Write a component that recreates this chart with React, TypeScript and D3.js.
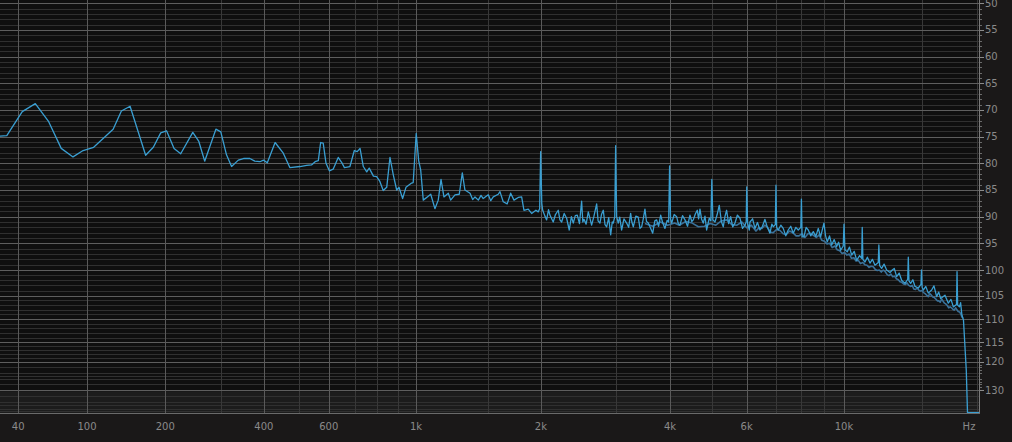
import React from 'react';
import * as d3 from 'd3';

const W = 1012;
const H = 442;
const PLOT_R = 980;
const PLOT_B = 414;

// Frequency axis
const freqLabelTicks = [40, 100, 200, 400, 600, 1000, 2000, 4000, 6000, 10000];
const freqLabelText = ['40', '100', '200', '400', '600', '1k', '2k', '4k', '6k', '10k'];
const freqMinorGrid = [300, 500, 700, 800, 900, 1500, 3000, 5000, 7000, 8000, 9000, 15000, 20000];
const freqUnit = 'Hz';

// Level axis (dB)
const dbLabelTicks = [-50, -55, -60, -65, -70, -75, -80, -85, -90, -95, -100, -105, -110, -115, -120, -130];
const dbLowGrid = [-122, -124, -125, -126, -128, -135, -140, -145, -150, -155];

// Main spectrum [Hz, dB]
const spectrum: [number, number][] = [
  [27, -74.9], [32, -74.8], [43, -70.3], [53, -68.8], [64, -72.2], [75, -77.2], [86, -78.8], [96, -77.6],
  [107, -77.0], [129, -73.6], [139, -70.2], [150, -69.3], [171, -78.5], [182, -77.0], [193, -74.3], [202, -73.9],
  [214, -77.2], [225, -78.2], [246, -74.2], [257, -75.9], [268, -79.6], [290, -73.6], [300, -74.1], [312, -78.4],
  [323, -80.6], [338, -79.4], [350, -79.1], [365, -79.1], [377, -79.6], [390, -79.7], [399, -79.4], [409, -79.9],
  [430, -76.1], [453, -78.1], [472, -80.8], [503, -80.6], [524, -80.4], [540, -80.3], [552, -79.7], [563, -79.5],
  [571, -76.1], [580, -76.2], [590, -80.0], [602, -81.4], [616, -81.1], [635, -78.9], [648, -79.8], [659, -80.8],
  [681, -80.6], [699, -77.6], [711, -77.8], [723, -77.2], [737, -80.6], [752, -81.6], [763, -80.9], [782, -82.4],
  [797, -82.5], [812, -83.4], [828, -85.1], [845, -84.5], [861, -78.9], [878, -82.2], [895, -85.0], [907, -84.5],
  [926, -86.6], [944, -84.5], [975, -83.7], [984, -83.6], [1001, -74.4], [1015, -79.5], [1027, -81.3], [1042, -86.9],
  [1066, -86.3], [1087, -85.8], [1113, -88.5], [1134, -86.9], [1152, -83.0], [1171, -86.3], [1200, -85.6], [1216, -86.9],
  [1246, -85.9], [1276, -85.8], [1298, -81.8], [1317, -85.0], [1355, -85.6], [1375, -86.8], [1393, -86.3], [1419, -86.9],
  [1440, -86.0], [1458, -86.6], [1499, -85.9], [1520, -87.0], [1541, -86.3], [1584, -85.8], [1599, -85.3], [1628, -87.2],
  [1664, -87.6], [1696, -85.6], [1727, -86.9], [1768, -86.4], [1801, -86.3], [1824, -88.8], [1867, -88.6], [1902, -89.4],
  [1947, -88.8], [1972, -89.1], [1987, -88.5], [1998, -77.8], [2010, -87.5], [2020, -88.8], [2045, -89.9], [2064, -90.6],
  [2085, -88.7], [2101, -89.7], [2139, -91.0], [2165, -89.6], [2198, -88.8], [2218, -90.6], [2239, -91.0], [2270, -89.4],
  [2300, -90.3], [2333, -92.5], [2360, -90.0], [2384, -91.2], [2410, -89.8], [2436, -89.7], [2465, -91.3], [2494, -87.1],
  [2510, -91.0], [2526, -90.5], [2555, -91.4], [2585, -89.1], [2610, -90.4], [2632, -91.6], [2665, -89.9], [2704, -87.6],
  [2725, -90.8], [2752, -91.2], [2775, -89.6], [2802, -88.8], [2828, -91.5], [2853, -91.9], [2885, -90.2], [2915, -93.4],
  [2940, -91.0], [2956, -91.2], [2980, -90.0], [2994, -76.7], [3010, -90.0], [3036, -91.2], [3060, -90.1], [3091, -92.5],
  [3130, -90.4], [3175, -91.2], [3210, -92.0], [3244, -89.4], [3265, -91.0], [3290, -91.9], [3335, -89.9], [3378, -90.1],
  [3410, -92.2], [3440, -91.9], [3470, -90.4], [3501, -88.6], [3530, -90.9], [3564, -91.2], [3600, -92.0], [3649, -93.1],
  [3690, -90.8], [3726, -90.6], [3765, -91.8], [3807, -89.7], [3850, -91.2], [3895, -92.2], [3940, -90.7], [3972, -91.0],
  [3992, -80.5], [4012, -90.4], [4036, -91.2], [4090, -89.6], [4144, -90.0], [4180, -91.3], [4217, -91.6], [4275, -89.8],
  [4331, -90.6], [4390, -91.8], [4447, -89.7], [4490, -90.9], [4526, -90.6], [4575, -89.5], [4623, -88.8], [4655, -90.4],
  [4689, -88.6], [4730, -90.5], [4771, -91.2], [4815, -89.9], [4857, -92.5], [4925, -90.3], [4968, -90.8], [4992, -83.0],
  [5020, -90.6], [5076, -91.0], [5135, -89.6], [5192, -87.9], [5250, -90.9], [5303, -91.9], [5350, -90.0], [5398, -88.8],
  [5455, -91.3], [5514, -90.0], [5575, -91.9], [5641, -91.2], [5715, -89.7], [5792, -90.3], [5870, -92.2], [5946, -91.6],
  [5985, -91.0], [6002, -84.4], [6030, -91.2], [6083, -92.5], [6105, -91.0], [6190, -90.4], [6268, -92.2], [6350, -91.1],
  [6435, -92.5], [6520, -91.8], [6606, -90.5], [6690, -92.0], [6782, -93.1], [6850, -91.4], [6901, -91.9], [6975, -91.5],
  [7000, -84.1], [7025, -92.0], [7084, -92.5], [7180, -91.6], [7272, -92.2], [7370, -93.6], [7465, -92.5], [7565, -91.8],
  [7665, -93.1], [7770, -92.0], [7869, -92.5], [7975, -92.0], [8000, -86.7], [8030, -93.8], [8108, -93.8], [8200, -92.0],
  [8293, -92.5], [8400, -93.6], [8514, -92.8], [8630, -93.7], [8739, -92.2], [8849, -93.8], [8930, -92.4], [9004, -91.2],
  [9080, -93.6], [9162, -94.7], [9270, -93.6], [9375, -95.3], [9500, -94.3], [9622, -95.6], [9720, -94.8], [9827, -96.3],
  [9960, -95.5], [10000, -91.4], [10050, -96.2], [10170, -96.6], [10290, -95.7], [10410, -97.2], [10550, -96.5], [10684, -98.2],
  [10850, -97.3], [10970, -97.8], [11000, -92.0], [11040, -98.0], [11159, -98.5], [11300, -97.6], [11455, -98.7], [11600, -98.0],
  [11758, -99.1], [11960, -98.6], [12000, -95.3], [12050, -99.2], [12174, -99.7], [12330, -98.9], [12497, -100.0], [12716, -100.5],
  [12870, -100.0], [13005, -99.7], [13167, -101.3], [13340, -100.6], [13516, -102.0], [13752, -102.6], [13950, -101.8], [13993, -97.6],
  [14040, -102.1], [14168, -102.6], [14330, -101.9], [14489, -103.2], [14742, -103.5], [14950, -102.8], [14990, -100.0], [15040, -103.4],
  [15131, -103.9], [15330, -103.2], [15530, -104.5], [15806, -103.9], [15997, -103.1], [16222, -105.2], [16400, -104.3], [16566, -105.6],
  [16942, -104.9], [17240, -106.6], [17480, -105.8], [17696, -107.4], [17990, -106.9], [18040, -100.3], [18100, -107.0], [18268, -107.4],
  [18380, -106.5], [18500, -109.1], [18656, -110.2], [18930, -123.0], [19052, -160], [20600, -160],
];

// Darker averaged trace, high band [Hz, dB]
const spectrumAvg: [number, number][] = [
  [3500, -91.3], [3650, -91.8], [3800, -91.0], [3950, -91.6], [4100, -91.2], [4200, -91.6], [4350, -90.9], [4500, -91.2],
  [4650, -91.9], [4800, -91.8], [4950, -91.3], [5100, -91.6], [5250, -90.8], [5400, -90.6], [5550, -91.5], [5700, -91.6],
  [5850, -91.0], [6000, -92.1], [6150, -91.6], [6300, -92.7], [6400, -92.1], [6500, -92.2], [6600, -91.6], [6700, -92.0],
  [6800, -92.9], [6900, -93.0], [7020, -92.4], [7150, -92.6], [7270, -93.2], [7400, -93.3], [7520, -92.7], [7650, -93.0],
  [7780, -93.6], [7900, -93.6], [8020, -93.2], [8150, -93.9], [8280, -93.2], [8400, -93.1], [8520, -93.5], [8650, -93.9],
  [8780, -93.4], [8900, -94.4], [9030, -94.6], [9150, -95.1], [9280, -95.0], [9400, -95.8], [9530, -95.5], [9650, -96.2],
  [9780, -96.4], [9900, -96.9], [10030, -96.7], [10150, -97.2], [10280, -97.0], [10400, -97.8], [10530, -97.7], [10650, -98.3],
  [10780, -98.2], [10900, -98.8], [11030, -98.6], [11150, -99.0], [11280, -99.1], [11400, -99.5], [11530, -99.3], [11650, -99.4],
  [11780, -99.9], [11900, -100.1], [12030, -100.0], [12150, -100.4], [12280, -100.0], [12400, -100.3], [12530, -100.9], [12650, -101.1],
  [12780, -100.8], [12900, -101.3], [13030, -101.2], [13150, -101.7], [13280, -101.9], [13400, -102.3], [13530, -102.4], [13650, -102.7],
  [13780, -102.8], [13900, -102.5], [14030, -103.0], [14150, -103.2], [14280, -103.0], [14400, -103.7], [14530, -103.8], [14650, -103.5],
  [14780, -103.9], [14900, -104.1], [15030, -104.0], [15150, -104.4], [15280, -104.6], [15400, -104.9], [15530, -105.2], [15650, -104.6],
  [15780, -104.9], [15900, -105.3], [16030, -105.4], [16150, -105.7], [16280, -106.1], [16400, -106.1], [16530, -106.4], [16650, -105.7],
  [16780, -106.2], [16900, -106.6], [17030, -106.8], [17150, -107.1], [17280, -107.6], [17400, -107.4], [17530, -107.6], [17650, -107.9],
  [17780, -108.1], [17900, -107.6], [18030, -108.0], [18150, -108.4], [18280, -108.5], [18400, -108.9], [18520, -109.6], [18600, -109.8],
];

const x = d3.scaleSymlog().constant(100).domain([100, 10000]).range([87, 844]);
const y = d3
  .scaleLinear()
  .domain([-50, -100, -105, -110, -115, -120, -130, -140, -150, -160])
  .range([3.3, 270, 295.7, 319, 342.3, 361.7, 390, 402, 408.5, 412.7]);

const line = d3
  .line<[number, number]>()
  .x((d) => x(d[0]))
  .y((d) => y(d[1]));

const dbMinorGrid = d3.range(-51, -120, -1).filter((v) => v % 5 !== 0).concat(dbLowGrid);
const dbRightMinorTicks = d3.range(-51, -130, -1).filter((v) => v % 5 !== 0);

const FONT = "'DejaVu Sans', sans-serif";
const TEXT = '#8a8a8a';

export default function App() {
  return (
    <div style={{ position: 'fixed', left: 0, top: 0, width: W, height: H }}>
      <svg width={W} height={H} style={{ display: 'block' }}>
        <defs>
          <clipPath id="plotClip">
            <rect x={0} y={0} width={PLOT_R} height={PLOT_B} />
          </clipPath>
        </defs>
        <rect x={0} y={0} width={W} height={H} fill="#1a1818" />
        <rect x={0} y={0} width={PLOT_R} height={PLOT_B} fill="#0f0f0f" />
        <rect x={0} y={y(-131)} width={PLOT_R} height={PLOT_B - y(-131)} fill="#1c1c1c" />

        <g clipPath="url(#plotClip)">
          {dbMinorGrid.map((v) => (
            <line key={'hm' + v} x1={0} x2={PLOT_R} y1={Math.round(y(v)) + 0.5} y2={Math.round(y(v)) + 0.5} stroke="#303030" strokeWidth={1} />
          ))}
          {freqMinorGrid.map((f) => (
            <line key={'vm' + f} x1={Math.round(x(f)) + 0.5} x2={Math.round(x(f)) + 0.5} y1={0} y2={PLOT_B} stroke="#383838" strokeWidth={1} />
          ))}
          {dbLabelTicks.map((v) => (
            <line key={'hM' + v} x1={0} x2={PLOT_R} y1={Math.round(y(v)) + 0.5} y2={Math.round(y(v)) + 0.5} stroke="#5e5e5e" strokeWidth={1} />
          ))}
          {freqLabelTicks.map((f) => (
            <line key={'vM' + f} x1={Math.round(x(f)) + 0.5} x2={Math.round(x(f)) + 0.5} y1={0} y2={PLOT_B} stroke="#5a5a5a" strokeWidth={1} />
          ))}
          <path d={line(spectrumAvg) || ''} fill="none" stroke="#3a7199" strokeWidth={1.6} strokeLinejoin="round" />
          <path d={line(spectrum) || ''} fill="none" stroke="#3a9fd2" strokeWidth={1.3} strokeLinejoin="round" />
        </g>

        {/* frame */}
        <line x1={PLOT_R - 0.5} x2={PLOT_R - 0.5} y1={0} y2={PLOT_B} stroke="#7a7a7a" />
        <line x1={0} x2={PLOT_R} y1={PLOT_B - 0.5} y2={PLOT_B - 0.5} stroke="#6a6a6a" />

        {/* right axis ticks */}
        {dbRightMinorTicks.map((v) => (
          <line key={'rt' + v} x1={PLOT_R} x2={PLOT_R + 2} y1={Math.round(y(v)) + 0.5} y2={Math.round(y(v)) + 0.5} stroke="#6a6a6a" />
        ))}
        {dbLabelTicks.map((v) => (
          <g key={'rl' + v}>
            <line x1={PLOT_R} x2={PLOT_R + 4} y1={Math.round(y(v)) + 0.5} y2={Math.round(y(v)) + 0.5} stroke="#8a8a8a" />
            <text x={PLOT_R + 5} y={y(v)} dy="0.35em" fontFamily={FONT} fontSize={10} fill={TEXT}>
              {String(Math.abs(v))}
            </text>
          </g>
        ))}

        {/* bottom axis labels */}
        {freqLabelTicks.map((f, i) => (
          <text key={'bl' + f} x={x(f)} y={426} dy="0.35em" textAnchor="middle" fontFamily={FONT} fontSize={10} fill={TEXT}>
            {freqLabelText[i]}
          </text>
        ))}
        <text x={969} y={426} dy="0.35em" textAnchor="middle" fontFamily={FONT} fontSize={10} fill={TEXT}>
          {freqUnit}
        </text>
      </svg>
    </div>
  );
}
